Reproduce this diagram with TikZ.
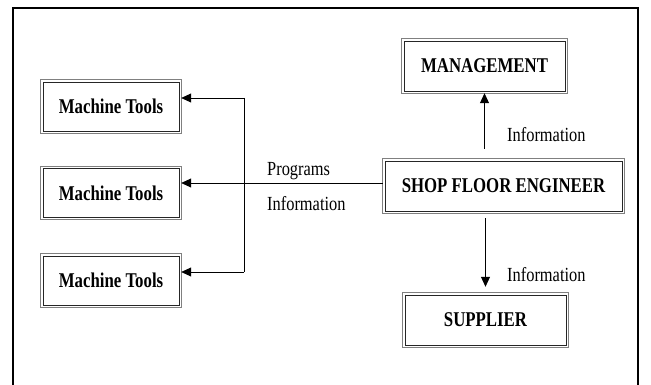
\documentclass[tikz,border=0pt]{standalone}
\usepackage{fontspec}
\setmainfont{Liberation Serif}
\newfontfamily\boxfont[FakeStretch=0.8]{Liberation Serif}
\newfontfamily\lblfont[FakeStretch=0.82]{Liberation Serif}
\usetikzlibrary{arrows.meta}

\tikzset{
  dbox/.style={inner sep=0pt, font=\boxfont\bfseries\fontsize{21}{23}\selectfont},
  rimout/.style={draw=black!50, line width=1.3pt},
  rimin/.style={draw=black!85, line width=0.7pt},
  lbl/.style={anchor=west, inner sep=0pt, font=\lblfont\fontsize{20}{22}\selectfont},
  arr/.style={line width=0.8pt, -{Triangle[length=10pt,width=9pt]}}
}

\begin{document}
\begin{tikzpicture}[x=1pt,y=1pt]
      \useasboundingbox (0,0) rectangle (651,385);
      % outer frame
      \draw[line width=2.4pt] (13,0) -- (13,377) -- (638,377) -- (638,0);

      % machine tools on the left
      \node[dbox, minimum width=140pt, minimum height=53pt] (mt1) at (111,278.5) {Machine Tools};
      \node[dbox, minimum width=140pt, minimum height=53pt] (mt2) at (111,192) {Machine Tools};
      \node[dbox, minimum width=140pt, minimum height=53pt] (mt3) at (111,104.5) {Machine Tools};

      % right column
      \node[dbox, minimum width=165pt, minimum height=54pt] (mgmt) at (484.5,319) {MANAGEMENT};
      \node[dbox, minimum width=241pt, minimum height=54pt] (sfe) at (503.5,199) {SHOP FLOOR ENGINEER};
      \node[dbox, minimum width=165pt, minimum height=54pt] (sup) at (485.5,65) {SUPPLIER};

      % double rims round every box
      \foreach \b in {mt1,mt2,mt3,mgmt,sfe,sup}{
        \draw[rimout] (\b.south west) rectangle (\b.north east);
        \draw[rimin] ([shift={(2.2pt,2.2pt)}]\b.south west) rectangle ([shift={(-2.2pt,-2.2pt)}]\b.north east);
      }

      % bus to the machine tools
      \coordinate (bt) at (244,287);
      \coordinate (bb) at (244,113);
      \draw[line width=0.8pt] (bt) -- (bb);
      \draw[arr] (bt) -- (bt -| mt1.east);
      \draw[arr] (bb) -- (bb -| mt3.east);
      \draw[arr] ([yshift=3pt]sfe.west) -- ([yshift=3pt]sfe.west -| mt2.east);

      % up and down
      \draw[arr] ([yshift=10pt]mgmt.south |- sfe.north) -- (mgmt.south);
      \draw[arr] ([yshift=-5pt]sup.north |- sfe.south) -- ([yshift=6pt]sup.north);

      % labels
      \node[lbl] (prog) at (267,214) {Programs};
      \node[lbl] (infl) at (267,181) {Information};
      \node[lbl] (infm) at (507,250) {Information};
      \node[lbl] (infs) at (507,110) {Information};
\end{tikzpicture}
\end{document}
